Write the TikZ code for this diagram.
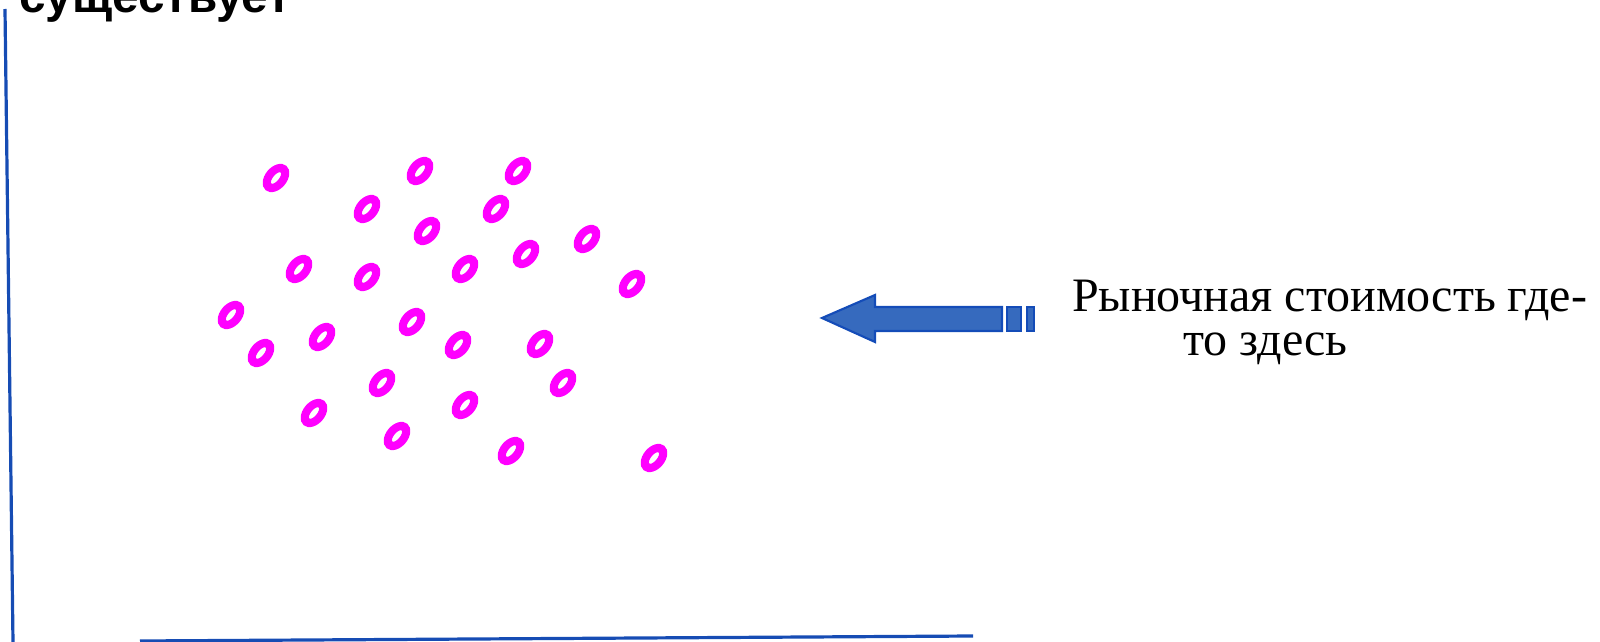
\documentclass[tikz,border=0pt]{standalone}
\usepackage{fontspec}
\setmainfont{Liberation Serif}
\newfontfamily\headfont{Liberation Sans}
\definecolor{axisblue}{RGB}{22,76,180}
\definecolor{arrowfill}{RGB}{54,106,190}
\definecolor{arrowedge}{RGB}{20,76,184}
\definecolor{ringpink}{RGB}{255,0,255}
\tikzset{
  axisline/.style={draw=axisblue, line width=2.4},
  ring/.style={fill=ringpink, even odd rule},
  arrowpart/.style={fill=arrowfill, draw=arrowedge, line width=1.6, line join=miter},
  label/.style={inner sep=0, anchor=base west},
  captionfont/.style={font=\fontsize{36pt}{42pt}\selectfont},
}
\newcommand{\ringat}[2]{%
  \path[ring, shift={(#1,#2)}, rotate=50]
    (0,0) ellipse [x radius=16, y radius=11]
    (0,0) ellipse [x radius=7.2, y radius=2.9];}
\begin{document}
\begin{tikzpicture}[x=0.75pt, y=-0.75pt]
\useasboundingbox (0,0) rectangle (1600,642);

% heading, cut by the top edge
\begin{scope}
\clip (0,0) rectangle (1600,642);
\node[label, font=\headfont\bfseries\fontsize{35.7pt}{42pt}\selectfont] (head) at (19,13) {существует};
\end{scope}

% axes
\coordinate (ytop) at (5,9);
\coordinate (origin) at (13,642);
\coordinate (xleft) at (140,641);
\coordinate (xright) at (973,636);
\draw[axisline] (ytop) -- (origin);
\draw[axisline] (xleft) -- (xright);

% scattered observations
\ringat{276}{178}
\ringat{420}{171}
\ringat{518}{171}
\ringat{367}{209}
\ringat{496}{209}
\ringat{427}{231}
\ringat{587}{239}
\ringat{526}{254}
\ringat{299}{269}
\ringat{367}{277}
\ringat{465}{269}
\ringat{632}{284}
\ringat{231}{315}
\ringat{322}{337}
\ringat{412}{322}
\ringat{458}{345}
\ringat{540}{344}
\ringat{261}{353}
\ringat{382}{383}
\ringat{563}{383}
\ringat{465}{405}
\ringat{314}{413}
\ringat{397}{436}
\ringat{511}{451}
\ringat{654}{458}

% striped arrow pointing left
\draw[arrowpart] (822,318) -- (875,295) -- (875,307) -- (1002,307) -- (1002,331)
  -- (875,331) -- (875,342) -- cycle;
\draw[arrowpart] (1007,307) rectangle (1021,331);
\draw[arrowpart] (1027,307) rectangle (1034,331);

% caption
\node[label, captionfont] (cap1) at (1072,311) {Рыночная стоимость где-};
\node[label, captionfont] (cap2) at (1183,355) {то здесь};
\end{tikzpicture}
\end{document}
